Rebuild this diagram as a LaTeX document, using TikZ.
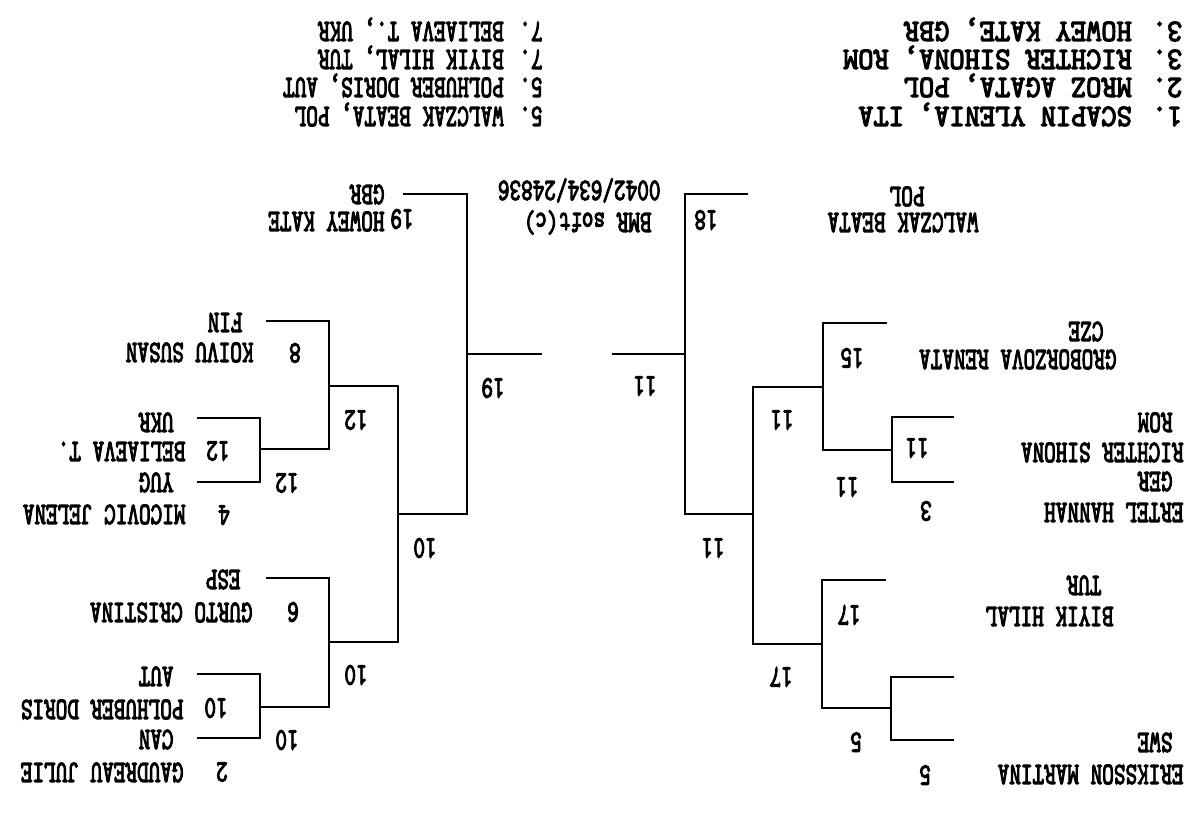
\documentclass[tikz,border=0pt]{standalone}
\usepackage{fontspec}
\newfontfamily\prfam{lmmono10-regular.otf}[FakeBold=4]
\newcommand{\prfont}{\prfam\fontsize{8.8}{10}\selectfont}
\tikzset{basic/.style={rotate=180,inner sep=0pt,font=\prfont}}
\tikzset{entry/.style={basic,anchor=base west,xscale=0.715}}
\tikzset{wideentry/.style={basic,anchor=base west,xscale=0.935}}
\tikzset{score/.style={basic,xscale=0.715}}
\tikzset{bracket/.style={draw,line width=0.55pt}}

\begin{document}
\begin{tikzpicture}[x=0.01cm,y=-0.01cm]
        \useasboundingbox (0,0) rectangle (1192,832);
        % final standings
        \node[entry] (r7a) at (543,22) {7. BELIAEVA T., UKR};
        \node[entry] (r7b) at (543,50) {7. BIYIK HILAL, TUR};
        \node[entry] (r5a) at (543,78) {5. POLHUBER DORIS, AUT};
        \node[entry] (r5b) at (543,107) {5. WALCZAK BEATA, POL};
        \node[wideentry] (r3a) at (1183,22) {3. HOWEY KATE, GBR};
        \node[wideentry] (r3b) at (1183,50) {3. RICHTER SIHONA, ROM};
        \node[wideentry] (r2) at (1183,78) {2. MROZ AGATA, POL};
        \node[wideentry] (r1) at (1183,107) {1. SCAPIN YLENIA, ITA};
        \node[entry] (soft) at (652,213) {BMR soft(c)};
        \node[entry] (code) at (661,181) {0042/634/24836};
        % upper half
        \node[entry] (eriksson) at (1184,765) {ERIKSSON MARTINA};
        \node[entry] (swe) at (1173,733) {SWE};
        \node[score] at (925,775) {5};
        \node[entry] (biyik) at (1114,607) {BIYIK HILAL};
        \node[entry] (tur) at (1102,576) {TUR};
        \node[score] at (849,615) {17};
        \node[entry] (ertel) at (1184,503) {ERTEL HANNAH};
        \node[entry] (ger) at (1173,472) {GER};
        \node[score] at (926,511) {3};
        \node[entry] (richter) at (1184,443) {RICHTER SIHONA};
        \node[entry] (rom) at (1173,413) {ROM};
        \node[score] at (917,448) {11};
        \node[entry] (groborzova) at (1117,350) {GROBORZOVA RENATA};
        \node[entry] (cze) at (1104,322) {CZE};
        \node[score] at (852,358) {15};
        \node[entry] (walczak) at (979,213) {WALCZAK BEATA};
        \node[entry] (pol) at (925,187) {POL};
        \node[score] at (706,220) {18};
        % lower half
        \node[entry] (gaudreau) at (184,763) {GAUDREAU JULIE};
        \node[entry] (can) at (174,730) {CAN};
        \node[score] at (222,772) {2};
        \node[entry] (polhuber) at (184,700) {POLHUBER DORIS};
        \node[entry] (aut) at (174,667) {AUT};
        \node[score] at (216,708) {10};
        \node[entry] (gurto) at (253,603) {GURTO CRISTINA};
        \node[entry] (esp) at (241,570) {ESP};
        \node[score] at (293,612) {6};
        \node[entry] (micovic) at (186,505) {MICOVIC JELENA};
        \node[entry] (yug) at (174,473) {YUG};
        \node[score] at (224,515) {4};
        \node[entry] (beliaeva) at (186,442) {BELIAEVA T.};
        \node[entry] (ukr) at (174,413) {UKR};
        \node[score] at (218,451) {12};
        \node[entry] (koivu) at (254,343) {KOIVU SUSAN};
        \node[entry] (fin) at (243,313) {FIN};
        \node[score] at (295,353) {8};
        \node[entry] (howey) at (385,212) {HOWEY KATE};
        \node[entry] (gbr) at (385,185) {GBR};
        \node[score] at (402,219) {19};
        % line ends
        \coordinate (swe-l) at (954,740);
        \coordinate (bye-l) at (954,677);
        \coordinate (tur-l) at (886,580);
        \coordinate (ger-l) at (954,482);
        \coordinate (rom-l) at (954,417);
        \coordinate (cze-l) at (887,323);
        \coordinate (pol-l) at (748,194);
        \coordinate (can-l) at (197,738);
        \coordinate (aut-l) at (197,674);
        \coordinate (esp-l) at (266,578);
        \coordinate (yug-l) at (197,482);
        \coordinate (ukr-l) at (197,418);
        \coordinate (fin-l) at (266,321);
        \coordinate (gbr-l) at (403,194);
        % junctions
        \coordinate (j1) at (891,708);
        \coordinate (j2) at (822,644);
        \coordinate (j5) at (892,450);
        \coordinate (j4) at (823,387);
        \coordinate (j3) at (753,514);
        \coordinate (j6) at (685,354);
        \coordinate (fr) at (612,354);
        \coordinate (k1) at (260,707);
        \coordinate (k2) at (329,642);
        \coordinate (k3) at (260,449);
        \coordinate (k4) at (329,386);
        \coordinate (k5) at (398,514);
        \coordinate (k6) at (467,354);
        \coordinate (fl) at (542,354);
        % upper bracket
        \path[bracket] (bye-l) -| (j1) |- (swe-l);
        \path[bracket] (tur-l) -| (j2) |- (j1);
        \path[bracket] (rom-l) -| (j5) |- (ger-l);
        \path[bracket] (cze-l) -| (j4) |- (j5);
        \path[bracket] (j4) -| (j3) |- (j2);
        \path[bracket] (pol-l) -| (j6) |- (j3);
        \path[bracket] (j6) -- (fr);
        \node[score] at (856,742) {5};
        \node[score] at (781,677) {17};
        \node[score] at (847,487) {11};
        \node[score] at (782,420) {11};
        \node[score] at (713,548) {11};
        \node[score] at (645,386) {11};
        % lower bracket
        \path[bracket] (aut-l) -| (k1) |- (can-l);
        \path[bracket] (esp-l) -| (k2) |- (k1);
        \path[bracket] (ukr-l) -| (k3) |- (yug-l);
        \path[bracket] (fin-l) -| (k4) |- (k3);
        \path[bracket] (k4) -| (k5) |- (k2);
        \path[bracket] (gbr-l) -| (k6) |- (k5);
        \path[bracket] (k6) -- (fl);
        \node[score] at (287,740) {10};
        \node[score] at (356,675) {10};
        \node[score] at (287,483) {12};
        \node[score] at (356,420) {12};
        \node[score] at (425,548) {10};
        \node[score] at (493,388) {19};
    \end{tikzpicture}
\end{document}
